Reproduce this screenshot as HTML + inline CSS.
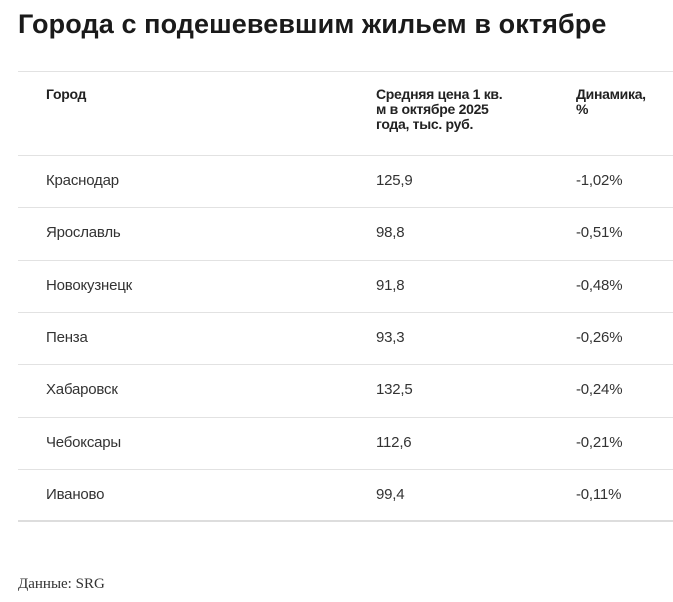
<!DOCTYPE html>
<html><head><meta charset="utf-8"><style>
body{margin:0;width:673px;height:602px;background:#fff;position:relative;overflow:hidden;font-family:"Liberation Sans","Noto Sans CJK SC",sans-serif;color:#222}
.t{position:absolute;white-space:nowrap}
.line{position:absolute;left:18px;width:655px;height:1px;background:#e2e2e2}
.h{font-weight:bold;font-size:14px;line-height:15px;letter-spacing:-0.3px;color:#222}
.c{font-size:15px;color:#333;letter-spacing:-0.2px}
</style></head><body>
<div class="t" style="left:18px;top:9px;font-size:27px;font-weight:bold;letter-spacing:0.1px;color:#1a1a1a">Города с подешевевшим жильем в октябре</div>
<div class="line" style="top:71px"></div>
<div class="t h" style="left:46px;top:87px">Город</div>
<div class="t h" style="left:376px;top:87px">Средняя цена 1 кв.<br>м в октябре 2025<br>года, тыс. руб.</div>
<div class="t h" style="left:576px;top:87px">Динамика,<br>%</div>
<div id="rows"></div>
<div class="line" style="top:520px;height:2px;background:#ddd"></div>
<div class="t" style="left:18px;top:576px;font-family:'Liberation Serif',serif;font-size:15px;color:#333">Данные: SRG</div>
<script>
const cities=["Краснодар","Ярославль","Новокузнецк","Пенза","Хабаровск","Чебоксары","Иваново"];
const prices=["125,9","98,8","91,8","93,3","132,5","112,6","99,4"];
const changes=["-1,02%","-0,51%","-0,48%","-0,26%","-0,24%","-0,21%","-0,11%"];
const root=document.getElementById('rows');
cities.forEach((c,i)=>{
  const y=155+i*52.3;
  const ln=document.createElement('div');ln.className='line';ln.style.top=Math.round(y)+'px';
  
  
  root.appendChild(ln);
  [[c,46,'city-cell'],[prices[i],376,'price-cell'],[changes[i],576,'change-cell']].forEach(([txt,x,n])=>{
    const d=document.createElement('div');d.className='t c';d.textContent=txt;
    d.style.left=x+'px';d.style.top=Math.round(y+17)+'px';
    
    
    root.appendChild(d);
  });
});
</script>
</body></html>
